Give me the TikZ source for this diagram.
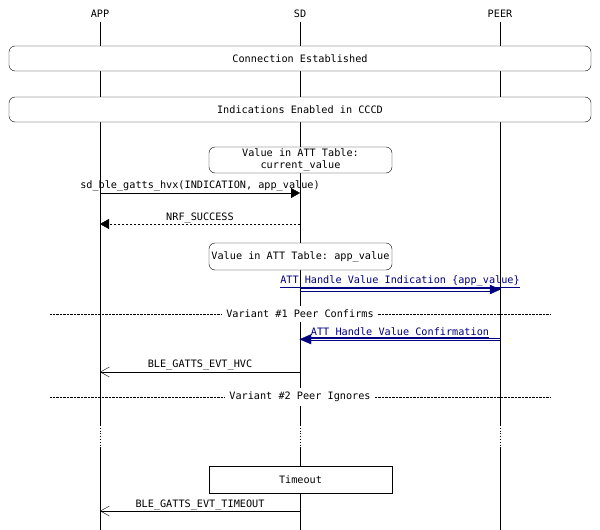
\documentclass[tikz,border=0pt]{standalone}
\usepackage{fontspec}
\setmonofont{DejaVu Sans Mono}
\usetikzlibrary{arrows.meta}
\begin{document}
\begin{tikzpicture}[x=1pt,y=-1pt,font=\ttfamily\fontsize{10.2}{12}\selectfont,
  lbl/.style={inner sep=1pt},
  box/.style={draw,rounded corners=6pt,inner sep=0pt,align=center}]
\useasboundingbox (0,0) rectangle (600,530);
\definecolor{mblue}{RGB}{0,0,128}
% headers
\node (app) at (100,14) {APP};
\node (sd) at (300,14) {SD};
\node (peer) at (500,14) {PEER};
\coordinate (appA) at (100,22); \coordinate (appB) at (100,425);
\coordinate (appC) at (100,448); \coordinate (appD) at (100,530);
\coordinate (sdA) at (300,22); \coordinate (sdB) at (300,425);
\coordinate (sdC) at (300,448); \coordinate (sdD) at (300,530);
\coordinate (peA) at (500,22); \coordinate (peB) at (500,425);
\coordinate (peC) at (500,448); \coordinate (peD) at (500,530);
\foreach \p in {app,sd,pe}{
  \draw (\p A) -- (\p B);
  \draw[dotted,line width=0.8pt] (\p B) -- (\p C);
  \draw (\p C) -- (\p D);}
% full width boxes
\node[box,fill=white,minimum width=582pt,minimum height=25pt] (conn) at (300,58.5) {Connection Established};
\node[box,fill=white,minimum width=582pt,minimum height=25pt] (ind) at (300,109.5) {Indications Enabled in CCCD};
\node[box,fill=white,minimum width=183pt,minimum height=26pt] (v1) at (300.5,160) {Value in ATT Table:\\current\_value};
% hvx
\coordinate (h1) at (100,193); \coordinate (h2) at (300,193);
\draw[-{Triangle[length=9pt,width=10pt]}] (h1) -- (h2);
\node[lbl] (hl) at (200,186) {sd\_ble\_gatts\_hvx(INDICATION, app\_value)};
\coordinate (n1) at (300,224); \coordinate (n2) at (100,224);
\draw[dashed,dash pattern=on 2pt off 2pt,-{Triangle[length=9pt,width=10pt]}] (n1) -- (n2);
\node[lbl] (nl) at (200,218) {NRF\_SUCCESS};
\node[box,fill=white,minimum width=183pt,minimum height=27pt] (v2) at (300.5,256.5) {Value in ATT Table: app\_value};
% indication
\coordinate (i1) at (300,288.5); \coordinate (i2) at (500,288.5);
\draw[mblue] (i1) -- (i2);
\draw[mblue] (300,291) -- (492,291);
\draw[mblue,fill=mblue] (490,285) -- (500,289.5) -- (490,294) -- cycle;
\node[lbl,text=mblue] (il) at (400,282) {\underline{ATT Handle Value Indication \{app\_value\}}};
% variant 1
\coordinate (va) at (50,314); \coordinate (vb) at (550,314);
\draw[densely dotted] (va) -- (vb);
\node[fill=white,inner sep=4pt] (vl1) at (300,314) {Variant \#1 Peer Confirms};
% confirmation
\coordinate (c1) at (500,338); \coordinate (c2) at (300,338);
\draw[mblue] (c1) -- (308,338);
\draw[mblue] (500,340.5) -- (308,340.5);
\draw[mblue,fill=mblue] (311,334.5) -- (300,339.3) -- (311,344) -- cycle;
\node[lbl,text=mblue] (cl) at (400,333) {\underline{ATT Handle Value Confirmation}};
% hvc
\coordinate (e1) at (300,372); \coordinate (e2) at (100,372);
\draw[-{Straight Barb[length=9pt,width=10pt]}] (e1) -- (e2);
\node[lbl] (el) at (200,365) {BLE\_GATTS\_EVT\_HVC};
% variant 2
\coordinate (wa) at (50,397); \coordinate (wb) at (550,397);
\draw[densely dotted] (wa) -- (wb);
\node[fill=white,inner sep=4pt] (vl2) at (300,397) {Variant \#2 Peer Ignores};
% timeout
\node[draw,fill=white,minimum width=183pt,minimum height=27pt,inner sep=0pt] (to) at (300.5,479.5) {Timeout};
\coordinate (t1) at (300,511); \coordinate (t2) at (100,511);
\draw[-{Straight Barb[length=9pt,width=10pt]}] (t1) -- (t2);
\node[lbl] (tl) at (200,505) {BLE\_GATTS\_EVT\_TIMEOUT};
\end{tikzpicture}
\end{document}
